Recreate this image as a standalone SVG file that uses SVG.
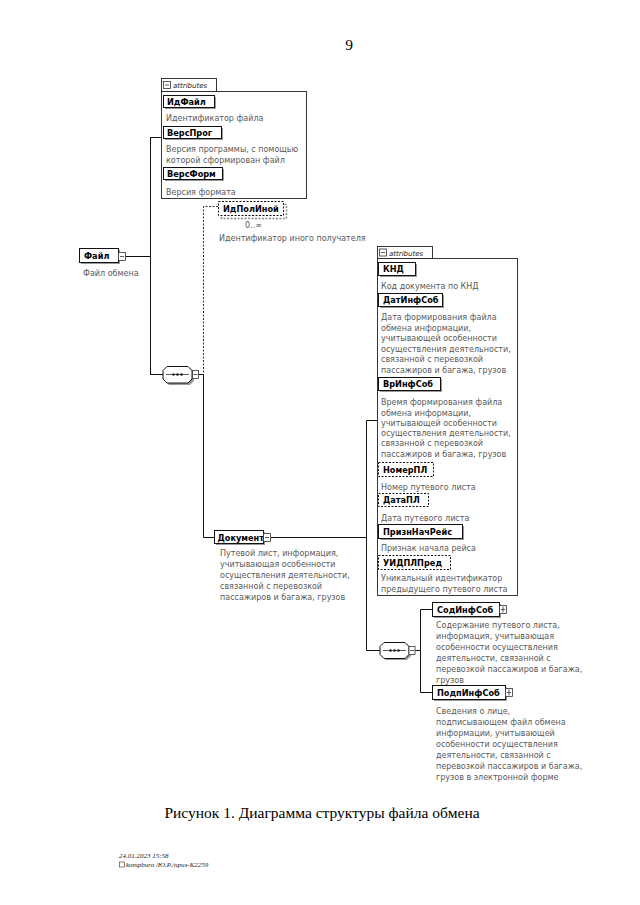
<svg xmlns="http://www.w3.org/2000/svg" width="640" height="905" viewBox="0 0 640 905">
<defs>
<style>
.bg{fill:#fff}
.box{fill:#fff;stroke:#111;stroke-width:1}
.dbox{fill:#fff;stroke:#111;stroke-width:1;stroke-dasharray:2,1.5}
.sh{fill:#9a9a9a}
.dsh{fill:none;stroke:#888;stroke-width:1.5;stroke-dasharray:2,1.5}
.cont{fill:#fff;stroke:#222;stroke-width:0.9}
.lbl{font-family:"DejaVu Sans",sans-serif;font-size:8.2px;font-weight:bold;fill:#000}
.desc{font-family:"DejaVu Sans",sans-serif;font-size:8px;fill:#5a5a5a}
.tab{font-family:"DejaVu Sans",sans-serif;font-size:7px;font-style:italic;fill:#222}
.ln{stroke:#111;stroke-width:1;fill:none}
.dl{stroke:#333;stroke-width:1;fill:none;stroke-dasharray:2,1.5}
.ic{fill:#fff;stroke:#333;stroke-width:0.8}
.icl{stroke:#333;stroke-width:0.8}
.cap{font-family:"Liberation Serif",serif;font-size:15.5px;fill:#000}
.foot{font-family:"Liberation Serif",serif;font-size:7px;font-style:italic;fill:#222}
</style>
</defs>
<rect class="bg" x="0" y="0" width="640" height="905"/>
<text class="cap" x="349" y="50" text-anchor="middle" font-size="12">9</text>

<g id="connectors">
<line class="ln" x1="125" y1="256.5" x2="150" y2="256.5"/>
<line class="ln" x1="150.5" y1="137" x2="150.5" y2="374.5"/>
<line class="ln" x1="150" y1="137.5" x2="161" y2="137.5"/>
<line class="ln" x1="150" y1="374.5" x2="163" y2="374.5"/>
<line class="ln" x1="198" y1="374.5" x2="203" y2="374.5"/>
<polyline class="dl" points="218,206.5 203.5,206.5 203.5,374"/>
<polyline class="ln" points="203.5,374 203.5,537.5 214,537.5"/>
<line class="ln" x1="271" y1="537.5" x2="366" y2="537.5"/>
<polyline class="ln" points="377,420.5 366.5,420.5 366.5,650.5 380,650.5"/>
<line class="ln" x1="410" y1="650.5" x2="420" y2="650.5"/>
<polyline class="ln" points="432,609.5 420.5,609.5 420.5,692.5 432,692.5"/>
</g>

<g id="attrs-file">
<rect class="cont" x="161.5" y="78.5" width="55" height="13"/>
<rect class="ic" x="163.5" y="81.5" width="7" height="7"/>
<line class="icl" x1="165" y1="85" x2="169" y2="85"/>
<text class="tab" x="173" y="88">attributes</text>
<rect class="cont" x="161.5" y="91.5" width="145" height="107"/>
<rect class="sh" x="165" y="97" width="51" height="12"/>
<rect class="box" x="163.5" y="95.5" width="51" height="12"/>
<text class="lbl" x="167" y="104.5">ИдФайл</text>
<text class="desc" x="166" y="121">Идентификатор файла</text>
<rect class="sh" x="165" y="128" width="58" height="12"/>
<rect class="box" x="163.5" y="126.5" width="58" height="12"/>
<text class="lbl" x="167" y="135.5">ВерсПрог</text>
<text class="desc" x="166" y="152">Версия программы, с помощью</text>
<text class="desc" x="166" y="162.5">которой сформирован файл</text>
<rect class="sh" x="165" y="169" width="59" height="12"/>
<rect class="box" x="163.5" y="167.5" width="59" height="12"/>
<text class="lbl" x="167" y="176.5">ВерсФорм</text>
<text class="desc" x="166" y="195">Версия формата</text>
</g>

<g id="node-file">
<rect class="sh" x="81" y="250" width="39" height="14"/>
<rect class="box" x="79.5" y="248.5" width="39" height="14"/>
<text class="lbl" x="84" y="258.5">Файл</text>
<rect class="ic" x="118.5" y="252.5" width="7" height="8"/>
<line class="icl" x1="120" y1="256.5" x2="124" y2="256.5"/>
<text class="desc" x="83" y="276">Файл обмена</text>
</g>

<g id="seq-1">
<path class="sh" d="M169,368 H190 L194,372 V381 L190,385 H169 L165,381 V372 Z"/>
<path class="box" d="M167,366.5 H188 L192,370.5 V379 L188,383 H167 L163,379 V370.5 Z"/>
<line class="icl" x1="166" y1="374.5" x2="189" y2="374.5"/>
<circle cx="173.5" cy="374.5" r="1.2" fill="#111"/>
<circle cx="177.5" cy="374.5" r="1.2" fill="#111"/>
<circle cx="181.5" cy="374.5" r="1.2" fill="#111"/>
<rect class="ic" x="192.5" y="370.5" width="6" height="8"/>
<line class="icl" x1="193.5" y1="374.5" x2="197.5" y2="374.5"/>
</g>

<g id="node-idpolinoy">
<rect class="dsh" x="221.5" y="204.5" width="65" height="14"/>
<rect class="dbox" x="218.5" y="201.5" width="65" height="14"/>
<text class="lbl" x="223" y="212">ИдПолИной</text>
<text class="desc" x="245" y="228" font-size="7">0..∞</text>
<text class="desc" x="219" y="241">Идентификатор иного получателя</text>
</g>

<g id="attrs-doc">
<rect class="cont" x="377.5" y="246.5" width="55" height="12"/>
<rect class="ic" x="379.5" y="249" width="7" height="7"/>
<line class="icl" x1="381" y1="252.5" x2="385" y2="252.5"/>
<text class="tab" x="389" y="255.5">attributes</text>
<rect class="cont" x="377.5" y="258.5" width="140" height="337"/>
<rect class="sh" x="380" y="264" width="37" height="13"/>
<rect class="box" x="378.5" y="262.5" width="37" height="13"/>
<text class="lbl" x="383" y="272">КНД</text>
<text class="desc" x="381" y="289">Код документа по КНД</text>
<rect class="sh" x="380" y="295" width="64" height="13"/>
<rect class="box" x="378.5" y="293.5" width="64" height="13"/>
<text class="lbl" x="383" y="303">ДатИнфСоб</text>
<text class="desc" x="381" y="320">Дата формирования файла</text>
<text class="desc" x="381" y="330.5">обмена информации,</text>
<text class="desc" x="381" y="341">учитывающей особенности</text>
<text class="desc" x="381" y="351.5">осуществления деятельности,</text>
<text class="desc" x="381" y="362">связанной с перевозкой</text>
<text class="desc" x="381" y="372.5">пассажиров и багажа, грузов</text>
<rect class="sh" x="380" y="379" width="62" height="13"/>
<rect class="box" x="378.5" y="377.5" width="62" height="13"/>
<text class="lbl" x="383" y="387">ВрИнфСоб</text>
<text class="desc" x="381" y="405">Время формирования файла</text>
<text class="desc" x="381" y="415.5">обмена информации,</text>
<text class="desc" x="381" y="426">учитывающей особенности</text>
<text class="desc" x="381" y="436">осуществления деятельности,</text>
<text class="desc" x="381" y="446">связанной с перевозкой</text>
<text class="desc" x="381" y="456.5">пассажиров и багажа, грузов</text>
<rect class="dbox" x="378.5" y="462.5" width="55" height="14"/>
<text class="lbl" x="383" y="472.5">НомерПЛ</text>
<text class="desc" x="381" y="490">Номер путевого листа</text>
<rect class="dbox" x="378.5" y="493.5" width="50" height="13"/>
<text class="lbl" x="383" y="503">ДатаПЛ</text>
<text class="desc" x="381" y="521">Дата путевого листа</text>
<rect class="sh" x="380" y="526" width="84" height="14"/>
<rect class="box" x="378.5" y="524.5" width="84" height="14"/>
<text class="lbl" x="383" y="534.5">ПризнНачРейс</text>
<text class="desc" x="381" y="551">Признак начала рейса</text>
<rect class="dbox" x="378.5" y="555.5" width="72" height="14"/>
<text class="lbl" x="383" y="565.5">УИДПЛПред</text>
<text class="desc" x="381" y="581">Уникальный идентификатор</text>
<text class="desc" x="381" y="591.5">предыдущего путевого листа</text>
</g>

<g id="node-document">
<rect class="sh" x="216" y="532" width="49" height="13"/>
<rect class="box" x="214.5" y="530.5" width="49" height="13"/>
<text class="lbl" x="217.5" y="540.5">Документ</text>
<rect class="ic" x="263.5" y="533.5" width="7" height="8"/>
<line class="icl" x1="265" y1="537.5" x2="269" y2="537.5"/>
<text class="desc" x="220" y="556">Путевой лист, информация,</text>
<text class="desc" x="220" y="567">учитывающая особенности</text>
<text class="desc" x="220" y="578">осуществления деятельности,</text>
<text class="desc" x="220" y="589">связанной с перевозкой</text>
<text class="desc" x="220" y="600">пассажиров и багажа, грузов</text>
</g>

<g id="seq-2">
<path class="sh" d="M386,644 H407 L411,648 V656 L407,660 H386 L382,656 V648 Z"/>
<path class="box" d="M384,642.5 H405 L409,646.5 V654.5 L405,658.5 H384 L380,654.5 V646.5 Z"/>
<line class="icl" x1="383" y1="650.5" x2="406" y2="650.5"/>
<circle cx="390.5" cy="650.5" r="1.2" fill="#111"/>
<circle cx="394.5" cy="650.5" r="1.2" fill="#111"/>
<circle cx="398.5" cy="650.5" r="1.2" fill="#111"/>
<rect class="ic" x="409" y="646.5" width="6" height="8"/>
<line class="icl" x1="410" y1="650.5" x2="414" y2="650.5"/>
</g>

<g id="node-sodinfsob">
<rect class="sh" x="434" y="604" width="67" height="14"/>
<rect class="box" x="432.5" y="602.5" width="67" height="14"/>
<text class="lbl" x="437" y="612.5">СодИнфСоб</text>
<rect class="ic" x="499.5" y="605.5" width="7" height="8"/>
<line class="icl" x1="501" y1="609.5" x2="505" y2="609.5"/>
<line class="icl" x1="503" y1="606.5" x2="503" y2="612.5"/>
<text class="desc" x="436" y="628">Содержание путевого листа,</text>
<text class="desc" x="436" y="639">информация, учитывающая</text>
<text class="desc" x="436" y="650">особенности осуществления</text>
<text class="desc" x="436" y="661">деятельности, связанной с</text>
<text class="desc" x="436" y="672">перевозкой пассажиров и багажа,</text>
<text class="desc" x="436" y="683">грузов</text>
</g>

<g id="node-podpinfsob">
<rect class="sh" x="434" y="687" width="73" height="14"/>
<rect class="box" x="432.5" y="685.5" width="73" height="14"/>
<text class="lbl" x="437" y="695.5">ПодпИнфСоб</text>
<rect class="ic" x="505.5" y="688.5" width="7" height="8"/>
<line class="icl" x1="507" y1="692.5" x2="511" y2="692.5"/>
<line class="icl" x1="509" y1="689.5" x2="509" y2="695.5"/>
<text class="desc" x="436" y="714">Сведения о лице,</text>
<text class="desc" x="436" y="725">подписывающем файл обмена</text>
<text class="desc" x="436" y="736">информации, учитывающей</text>
<text class="desc" x="436" y="747">особенности осуществления</text>
<text class="desc" x="436" y="758">деятельности, связанной с</text>
<text class="desc" x="436" y="769">перевозкой пассажиров и багажа,</text>
<text class="desc" x="436" y="780">грузов в электронной форме</text>
</g>

<text class="cap" x="322" y="818" text-anchor="middle">Рисунок 1. Диаграмма структуры файла обмена</text>
<text class="foot" x="119" y="858">24.01.2023 15:58</text>
<rect x="119.5" y="862" width="5" height="5" fill="none" stroke="#333" stroke-width="0.6"/>
<text class="foot" x="126" y="867">kompburo /Ю.Р./приз-К2259</text>
</svg>
